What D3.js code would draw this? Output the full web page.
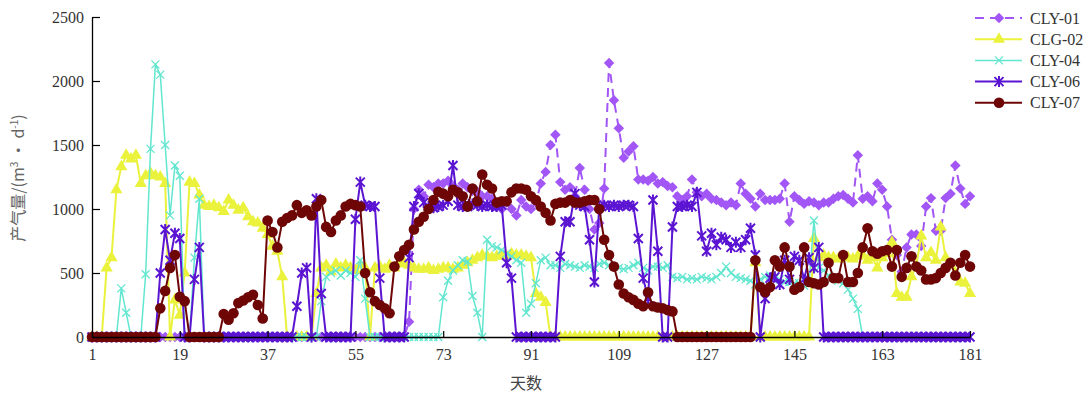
<!DOCTYPE html>
<html>
<head>
<meta charset="utf-8">
<script src="https://cdn.jsdelivr.net/npm/d3@7"></script>
<style>
  html, body { margin: 0; padding: 0; background: #fff; }
  svg { display: block; }
</style>
</head>
<body>
<svg id="chart" width="1089" height="393"></svg>
<script>
// x categories: day 1..181
const days = d3.range(1, 182);
const xTicks = [1, 19, 37, 55, 73, 91, 109, 127, 145, 163, 181];
const yTicks = [0, 500, 1000, 1500, 2000, 2500];

// gas production per well, m3/d
const cly01 = [
  0,0,0,0,0,0,0,0,0,0,
  0,0,0,0,0,0,0,0,0,0,
  0,0,0,0,0,0,0,0,0,0,
  0,0,0,0,0,0,0,0,0,0,
  0,0,0,0,0,0,0,0,0,0,
  0,0,0,0,0,0,0,0,0,0,
  0,0,0,0,0,120,1000,1150,1100,1190,
  1170,1200,1200,1220,1180,1150,1200,1170,1140,1135,
  1100,1100,1080,1050,1000,1050,1000,950,1070,1020,
  1000,1050,1200,1290,1500,1580,1210,1150,1170,1100,
  1320,1150,1000,840,890,1160,2140,1850,1630,1400,
  1450,1490,1230,1230,1220,1250,1200,1210,1180,1170,
  1100,1070,1100,1230,1130,1100,1120,1080,1070,1050,
  1030,1050,1030,1200,1120,1080,1020,1120,1070,1070,
  1070,1080,1200,900,1100,1070,1040,1060,1050,1030,
  1050,1050,1080,1100,1110,1080,1050,1420,1080,1100,
  1060,1200,1150,1020,760,640,510,700,800,800,
  710,1020,1085,830,830,1085,1120,1340,1160,1040,
  1100
];
const clg02 = [
  0,0,0,540,620,1150,1330,1420,1390,1420,
  1200,1260,1280,1260,1250,1200,0,290,170,500,
  1210,1200,1110,1030,1020,1030,1010,980,1070,1030,
  990,1010,940,900,890,850,800,710,670,470,
  0,0,0,0,0,0,340,540,560,510,
  570,540,560,540,520,560,540,0,540,550,
  530,560,540,570,580,560,540,530,530,540,
  520,530,540,540,530,540,560,580,600,620,
  640,630,620,630,640,630,650,640,640,630,
  620,340,310,270,0,0,0,0,0,0,
  0,0,0,0,0,0,0,0,0,0,
  0,0,0,0,0,0,0,0,0,0,
  0,0,0,0,0,0,0,0,0,0,
  0,0,0,0,0,0,580,0,0,0,
  0,0,0,0,0,0,0,0,770,620,
  640,620,620,610,630,620,610,630,640,600,
  620,540,620,650,740,340,310,310,470,560,
  790,620,660,600,860,620,560,500,430,420,
  340
];
const cly04 = [
  0,0,0,0,0,0,380,190,0,0,
  0,490,1470,2130,2050,1500,950,1340,1260,0,
  0,620,1080,0,0,0,0,0,0,0,
  0,0,0,0,0,0,0,0,0,0,
  0,0,0,0,0,0,0,280,470,500,
  520,480,520,500,470,600,300,0,0,0,
  0,0,0,0,0,0,0,0,0,0,
  0,0,310,440,520,560,600,590,320,190,
  0,760,710,700,680,650,630,600,580,190,
  260,420,600,620,560,560,540,570,560,550,
  540,560,550,540,570,580,560,550,540,530,
  540,560,580,540,520,550,550,540,560,470,
  460,470,450,460,450,470,460,450,470,500,
  550,500,470,460,450,440,410,450,470,480,
  460,450,430,430,420,420,400,420,910,540,
  520,480,460,440,420,370,300,220,0,0,
  0,0,0,0,0,0,0,0,0,0,
  0,0,0,0,0,0,0,0,0,0,
  0
];
const cly06 = [
  0,0,0,0,0,0,0,0,0,0,
  0,0,0,0,500,840,600,810,770,0,
  0,450,700,0,0,0,0,0,0,0,
  0,0,0,0,0,0,0,0,0,0,
  0,0,240,500,540,0,1080,340,0,0,
  0,0,0,0,920,1210,1030,1020,1020,460,
  0,0,0,0,0,620,1020,1120,1050,1020,
  1010,1020,1030,1060,1340,1030,1020,1020,1040,1030,
  1020,1030,1020,1020,1030,580,460,0,0,0,
  0,0,0,0,0,0,630,900,900,1120,
  1030,1020,760,430,1020,1030,1020,1030,1020,1030,
  1030,1020,770,460,300,1070,670,0,0,860,
  1020,1020,1030,1020,1130,790,670,810,720,780,
  760,700,740,700,760,850,640,0,300,460,
  470,410,600,450,630,600,450,620,540,700,
  0,0,0,0,0,0,0,0,0,0,
  0,0,0,0,0,0,0,0,0,0,
  0,0,0,0,0,0,0,0,0,0,
  0
];
const cly07 = [
  0,0,0,0,0,0,0,0,0,0,
  0,0,0,0,224,360,540,640,315,280,
  0,0,0,0,0,0,0,180,135,185,
  265,285,310,330,250,145,910,820,700,900,
  930,950,1030,970,990,950,1020,1070,860,820,
  910,950,1020,1040,1030,1020,500,350,280,250,
  225,185,550,630,680,720,840,900,940,1000,
  1070,1135,1120,1100,1150,1130,1100,1020,1160,1060,
  1270,1190,1160,1050,1060,1060,1130,1160,1160,1150,
  1100,1070,1020,970,910,1040,1050,1050,1070,1050,
  1050,1060,1070,1070,1000,760,640,550,410,340,
  310,290,260,240,350,240,230,225,210,200,
  0,0,0,0,0,0,0,0,0,0,
  0,0,0,0,0,0,600,390,350,390,
  600,550,700,550,370,390,700,430,420,410,
  430,580,460,460,640,430,430,500,700,850,
  670,650,670,680,550,680,470,540,630,550,
  520,450,450,460,500,540,580,480,580,640,
  550
];

const series = [
  { name: 'CLY-01', values: cly01, color: '#a256f5', dash: '9,6', marker: 'diamond', width: 2 },
  { name: 'CLG-02', values: clg02, color: '#eaf23c', dash: null, marker: 'triangle', width: 2 },
  { name: 'CLY-04', values: cly04, color: '#62e6cf', dash: null, marker: 'cross', width: 1.5 },
  { name: 'CLY-06', values: cly06, color: '#5b14d2', dash: null, marker: 'asterisk', width: 2 },
  { name: 'CLY-07', values: cly07, color: '#6e0606', dash: null, marker: 'circle', width: 2 },
];

const svg = d3.select('#chart');
const x = d3.scaleLinear().domain([1, 181]).range([92, 970]);
const y = d3.scaleLinear().domain([0, 2500]).range([337, 17]);

const serif = '"Liberation Serif", "Times New Roman", serif';

const drawMarker = (sel, type, color) => {
  if (type === 'circle') {
    sel.append('circle').attr('r', 5.3).attr('fill', color);
  } else if (type === 'diamond') {
    sel.append('path')
      .attr('d', d3.symbol(d3.symbolSquare, 55)())
      .attr('transform', 'rotate(45)')
      .attr('fill', color);
  } else if (type === 'triangle') {
    sel.append('path')
      .attr('d', d3.symbol(d3.symbolTriangle, 64)())
      .attr('fill', color);
  } else if (type === 'cross') {
    sel.append('path')
      .attr('d', 'M-4,-4L4,4M-4,4L4,-4')
      .attr('stroke', color).attr('stroke-width', 1.3).attr('fill', 'none');
  } else if (type === 'asterisk') {
    sel.append('path')
      .attr('d', 'M-4.5,-4.5L4.5,4.5M-4.5,4.5L4.5,-4.5M0,-5.5V5.5')
      .attr('stroke', color).attr('stroke-width', 2).attr('fill', 'none');
  }
};

// lines + markers, CLY-07 ends up on top
const line = d3.line()
  .x((d, i) => x(days[i]))
  .y((d) => y(d));

series.forEach((s) => {
  const g = svg.append('g');
  g.append('path')
    .datum(s.values)
    .attr('fill', 'none')
    .attr('stroke', s.color)
    .attr('stroke-width', s.width)
    .attr('stroke-dasharray', s.dash)
    .attr('d', line);

  g.selectAll('g.pt')
    .data(s.values)
    .enter()
    .append('g')
    .attr('class', 'pt')
    .attr('transform', (d, i) => `translate(${x(days[i])},${y(d)})`)
    .each(function () { drawMarker(d3.select(this), s.marker, s.color); });
});

// Y-axis (ticks point inward)
const yaxis = svg.append('g')
  .attr('transform', 'translate(92,0)')
  .call(d3.axisLeft(y).tickValues(yTicks).tickFormat(d3.format('d'))
    .tickSizeInner(-8).tickSizeOuter(0).tickPadding(8));

// X-axis
const xaxis = svg.append('g')
  .attr('transform', 'translate(0,337)')
  .call(d3.axisBottom(x).tickValues(xTicks).tickFormat(d3.format('d'))
    .tickSizeInner(-6).tickSizeOuter(0).tickPadding(12));

[yaxis, xaxis].forEach((ax) => {
  ax.attr('font-family', serif).attr('font-size', 16);
  ax.selectAll('text').attr('fill', '#333');
  ax.select('.domain').attr('stroke', '#000').attr('stroke-width', 1.3);
  ax.selectAll('.tick line').attr('stroke', '#000').attr('stroke-width', 1.2);
});

// axis titles
const yTitle = svg.append('text')
  .attr('transform', 'translate(24,178) rotate(-90)')
  .attr('text-anchor', 'middle')
  .attr('fill', '#666')
  .attr('font-size', 16)
  .attr('font-family', '"Noto Sans CJK SC", "Liberation Serif", serif');
yTitle.append('tspan').text('产气量/(m');
yTitle.append('tspan').attr('dy', -6).attr('font-size', 10).text('3');
yTitle.append('tspan').attr('dy', 6).text(' • d');
yTitle.append('tspan').attr('dy', -6).attr('font-size', 10).text('-1');
yTitle.append('tspan').attr('dy', 6).text(')');

svg.append('text')
  .attr('x', 526)
  .attr('y', 389)
  .attr('text-anchor', 'middle')
  .attr('fill', '#444')
  .attr('font-size', 16)
  .attr('font-family', '"Noto Sans CJK SC", sans-serif')
  .text('天数');

// legend
const legend = svg.append('g');
series.forEach((s, i) => {
  const ly = 18 + i * 21.2;
  const row = legend.append('g').attr('transform', `translate(0,${ly})`);
  row.append('line')
    .attr('x1', 975).attr('x2', 1022)
    .attr('stroke', s.color)
    .attr('stroke-width', s.width)
    .attr('stroke-dasharray', s.dash);
  drawMarker(row.append('g').attr('transform', 'translate(999,0)'), s.marker, s.color);
  row.append('text')
    .attr('x', 1030)
    .attr('y', 5.5)
    .attr('fill', '#333')
    .attr('font-size', 16)
    .attr('font-family', serif)
    .text(s.name);
});
</script>
</body>
</html>
